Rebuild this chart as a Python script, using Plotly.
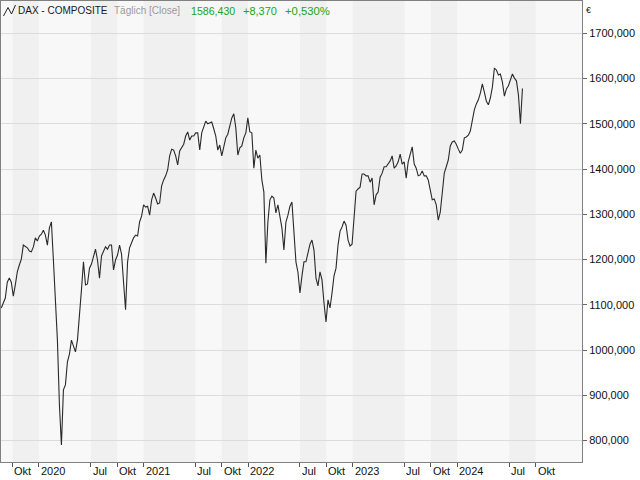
import pandas as pd
import plotly.graph_objects as go

# ---------------- data ----------------
week_start = "2019-08-23"   # weekly closes (Fridays)
close_values = [
    1093, 1106, 1115, 1150, 1159, 1150, 1119, 1144, 1173, 1188,
    1201, 1232, 1228, 1226, 1219, 1217, 1228, 1248, 1241, 1252,
    1256, 1265, 1254, 1232, 1270, 1283, 1199, 1111, 1022, 879,
    790, 912, 923, 974, 991, 1022, 1011, 996, 1022, 1073,
    1133, 1195, 1144, 1146, 1181, 1190, 1206, 1223, 1199, 1159,
    1208, 1217, 1228, 1223, 1232, 1232, 1177, 1199, 1210, 1232,
    1212, 1150, 1089, 1195, 1226, 1237, 1248, 1254, 1252, 1283,
    1296, 1321, 1316, 1318, 1298, 1332, 1347, 1336, 1323, 1325,
    1363, 1376, 1385, 1398, 1429, 1444, 1442, 1429, 1409, 1440,
    1447, 1455, 1473, 1482, 1464, 1473, 1473, 1480, 1480, 1442,
    1480, 1491, 1506, 1500, 1502, 1504, 1489, 1473, 1442, 1453,
    1429, 1451, 1469, 1477, 1495, 1513, 1522, 1491, 1431, 1447,
    1451, 1469, 1480, 1513, 1482, 1480, 1402, 1442, 1424, 1431,
    1376, 1349, 1192, 1283, 1332, 1340, 1336, 1303, 1321, 1292,
    1270, 1221, 1283, 1298, 1318, 1327, 1250, 1195, 1172, 1126,
    1164, 1195, 1195, 1217, 1234, 1243, 1221, 1159, 1142, 1173,
    1155, 1104, 1062, 1111, 1093, 1126, 1164, 1181, 1232, 1263,
    1272, 1285, 1276, 1243, 1230, 1234, 1305, 1351, 1356, 1360,
    1389, 1389, 1385, 1385, 1371, 1380, 1321, 1343, 1349, 1382,
    1391, 1405, 1405, 1411, 1418, 1429, 1402, 1407, 1416, 1433,
    1411, 1416, 1380, 1416, 1431, 1449, 1411, 1402, 1385, 1387,
    1396, 1385, 1385, 1376, 1354, 1332, 1334, 1321, 1287, 1305,
    1347, 1391, 1405, 1420, 1451, 1460, 1462, 1455, 1444, 1435,
    1442, 1469, 1471, 1475, 1484, 1513, 1531, 1544, 1553, 1568,
    1588, 1570, 1550, 1542, 1557, 1581, 1623, 1619, 1608, 1610,
    1592, 1561, 1577, 1584, 1597, 1610, 1601, 1595, 1564, 1500,
    1578,
]
dates = pd.date_range(week_start, periods=len(close_values), freq="7D")

y_tick_values = [800, 900, 1000, 1100, 1200, 1300, 1400, 1500, 1600, 1700]
y_tick_labels = ["800,000", "900,000", "1000,000", "1100,000", "1200,000",
                 "1300,000", "1400,000", "1500,000", "1600,000", "1700,000"]

x_tick_dates = ["2019-10-01", "2020-01-01", "2020-07-01", "2020-10-01",
                "2021-01-01", "2021-07-01", "2021-10-01", "2022-01-01",
                "2022-07-01", "2022-10-01", "2023-01-01", "2023-07-01",
                "2023-10-01", "2024-01-01", "2024-07-01", "2024-10-01"]
x_tick_labels = ["Okt", "2020", "Jul", "Okt", "2021", "Jul", "Okt", "2022",
                 "Jul", "Okt", "2023", "Jul", "Okt", "2024", "Jul", "Okt"]

title_name = "DAX - COMPOSITE"
title_mode = "Täglich [Close]"
last_close = "1586,430"
change_abs = "+8,370"
change_pct = "+0,530%"
currency = "€"

x_range = ["2019-08-22", "2025-03-12"]
y_range = [752.6, 1771.4]

# ---------------- layout helpers ----------------
W, H = 640, 480
ML, MR, MT, MB = 1, 58, 1, 18
PW, PH = W - ML - MR, H - MT - MB


def px(x):
    return (x - ML) / PW


def py(y):
    return (H - MB - y) / PH


LIGHT = "#f8f8f8"
DARK = "#f0f0f0"
GREEN = "#22a222"
FONT = "Liberation Sans"

fig = go.Figure()
fig.add_trace(go.Scatter(x=dates, y=close_values, mode="lines",
                         line=dict(color="#2a2a2a", width=1.1),
                         hoverinfo="skip", showlegend=False))

shapes = []
# alternating bands between ticks (dark on every second interval)
for k in range(0, len(x_tick_dates) - 1, 2):
    shapes.append(dict(type="rect", xref="x", yref="paper",
                       x0=x_tick_dates[k], x1=x_tick_dates[k + 1], y0=0, y1=1,
                       fillcolor=DARK, line=dict(width=0), layer="below"))

# small chart icon in header
pts = [(3.5, 16), (8, 7.5), (11.5, 14), (15.5, 5)]
path = "M " + " L ".join(f"{px(a):.5f},{py(b):.5f}" for a, b in pts)
shapes.append(dict(type="path", xref="paper", yref="paper", path=path,
                   line=dict(color="#222222", width=1)))

annotations = []
for d, lab in zip(x_tick_dates, x_tick_labels):
    annotations.append(dict(x=d, xref="x", y=py(471), yref="paper",
                            text=lab, showarrow=False, xanchor="left",
                            yanchor="middle", xshift=0,
                            font=dict(family=FONT, size=11, color="#111111")))

header = [
    (17.3, title_name, "#1a1a1a", 10),
    (112.7, title_mode, "#9a9a9a", 10),
    (190.0, last_close, GREEN, 10.6),
    (242.3, change_abs, GREEN, 11),
    (283.7, change_pct, GREEN, 11.3),
]
for x0, txt, col, sz in header:
    annotations.append(dict(x=px(x0), xref="paper", y=py(11), yref="paper",
                            text=txt, showarrow=False, xanchor="left",
                            yanchor="middle", xshift=-1,
                            font=dict(family=FONT, size=sz, color=col)))

annotations.append(dict(x=px(584), xref="paper", y=py(10.5), yref="paper",
                        text=currency, showarrow=False, xanchor="left",
                        yanchor="middle",
                        font=dict(family=FONT, size=9, color="#222222")))

fig.update_layout(
    width=W, height=H,
    margin=dict(l=ML, r=MR, t=MT, b=MB, pad=0),
    paper_bgcolor="white", plot_bgcolor=LIGHT,
    shapes=shapes, annotations=annotations,
    showlegend=False, hovermode=False,
    font=dict(family=FONT, size=11, color="#111111"),
    xaxis=dict(type="date", range=x_range, showgrid=False, zeroline=False,
               tickvals=x_tick_dates, showticklabels=False,
               ticks="outside", ticklen=4, tickcolor="#555555", tickwidth=1,
               showline=True, linecolor="#808080", linewidth=1, mirror=True,
               fixedrange=True),
    yaxis=dict(side="right", range=y_range, tickvals=y_tick_values,
               ticktext=y_tick_labels, showgrid=True, gridcolor="#dcdcdc",
               gridwidth=1, zeroline=False,
               ticks="outside", ticklen=4, tickcolor="#666666", tickwidth=1,
               showline=True, linecolor="#808080", linewidth=1, mirror=True,
               tickfont=dict(family=FONT, size=11, color="#111111"),
               fixedrange=True),
)

fig.write_html("out.html",
               config={"displayModeBar": False, "staticPlot": True},
               post_script="document.body.style.margin='0px';"
                           "document.body.style.overflow='hidden';")
